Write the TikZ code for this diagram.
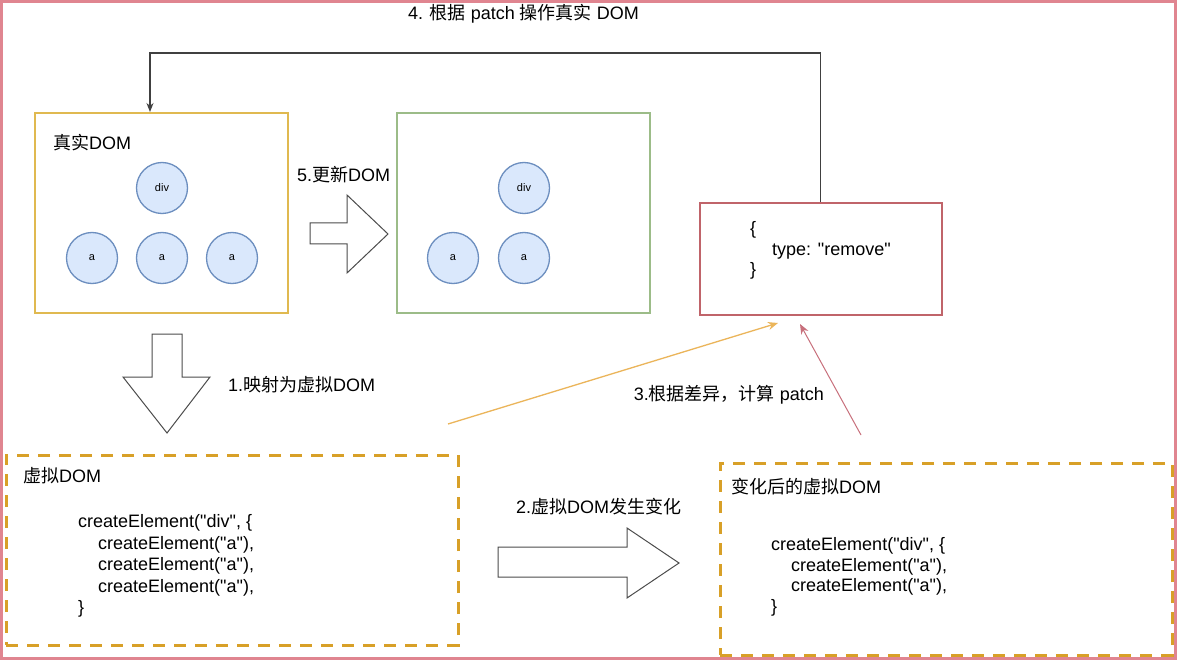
\documentclass[tikz,border=0pt]{standalone}
\usepackage{fontspec}
\setmainfont{Liberation Sans}[Ligatures=TeXOff]
\newfontfamily\cjk{Noto Sans CJK SC}
\usetikzlibrary{arrows.meta,calc}
\definecolor{framec}{HTML}{E08590}
\definecolor{realc}{HTML}{E0B950}
\definecolor{newc}{HTML}{9CBC88}
\definecolor{patchc}{HTML}{C0646A}
\definecolor{circf}{HTML}{DAE8FC}
\definecolor{circd}{HTML}{6C8EBF}
\definecolor{dashc}{HTML}{D8A028}
\definecolor{orgarr}{HTML}{EBB55A}
\definecolor{redarr}{HTML}{C8707C}
\definecolor{connc}{HTML}{404040}
\begin{document}
\begin{tikzpicture}[x=1pt,y=-1pt,
  lbl/.style={anchor=west,inner sep=0pt,font=\fontsize{18}{21}\selectfont},
  code/.style={anchor=west,inner sep=0pt,font=\fontsize{18}{21}\selectfont},
  solidbox/.style={draw,line width=2pt,minimum width=253pt,minimum height=200pt,inner sep=0pt},
  dashbox/.style={draw=dashc,line width=3pt,dash pattern=on 12pt off 9pt,inner sep=0pt},
  tnode/.style={circle,draw=circd,fill=circf,line width=1.3pt,minimum size=51pt,inner sep=0pt,font=\fontsize{11}{13}\selectfont},
  bigarrow/.style={draw=black!70,line width=1pt,fill=white,line join=miter},
  conn/.style={draw=connc,line width=1.3pt,-{Stealth[length=9pt,width=7pt]}},
  orgconn/.style={draw=orgarr,line width=1.3pt,-{Stealth[length=10pt,width=8pt]}},
  redconn/.style={draw=redarr,line width=1pt,-{Stealth[length=10pt,width=8pt]}}
]
\useasboundingbox (0,0) rectangle (1177,660);
\fill[white] (0,0) rectangle (1177,660);
\draw[framec,line width=3pt] (1.5,1.5) rectangle (1175.5,658.5);

% top label
\node[lbl] (l4) at (408,14) {4. {\cjk 根据} patch {\cjk 操作真实} DOM};

% real DOM
\node[solidbox,draw=realc] (real) at (161.5,213) {};
\node[lbl] (realt) at (53,143) {{\cjk 真实}DOM};
\node[tnode] (rdiv) at (162,188) {div};
\node[tnode] (ra1) at (92,258) {a};
\node[tnode] (ra2) at (162,258) {a};
\node[tnode] (ra3) at (232,258) {a};

% update arrow
\node[lbl] (l5) at (297,175) {5.{\cjk 更新}DOM};
\draw[bigarrow] (310,223) -- (347,223) -- (347,195) -- (388,234) -- (347,273) -- (347,244) -- (310,244) -- cycle;

% new DOM
\node[solidbox,draw=newc] (newdom) at (523.5,213) {};
\node[tnode] (ndiv) at (524,188) {div};
\node[tnode] (na1) at (453,258) {a};
\node[tnode] (na2) at (524,258) {a};

% patch
\node[draw=patchc,line width=2pt,minimum width=242pt,minimum height=112pt,inner sep=0pt] (patch) at (820.5,259) {};
\node[code] (p1) at (750,230) {\{};
\node[code] (p2) at (772,251) {type: "remove"};
\node[code] (p3) at (750,271) {\}};

% connector 4
\coordinate (turn) at (150,53);
\coordinate (realin) at ($(real.north)+(-11.5,0)$);
\draw[conn] (patch.north) |- (turn) -- (realin);

% down arrow
\draw[bigarrow] (152,334) -- (182,334) -- (182,377) -- (210,377) -- (167,433) -- (123,377) -- (152,377) -- cycle;
\node[lbl] (l1) at (228,385) {1.{\cjk 映射为虚拟}DOM};

% diff arrows
\coordinate (o1) at (448,424);
\coordinate (o2) at (778,323);
\draw[orgconn] (o1) -- (o2);
\coordinate (r1) at (861,435);
\coordinate (r2) at (800,324);
\draw[redconn] (r1) -- (r2);
\node[lbl,anchor=east] (l3) at (824,395) {3.{\cjk 根据差异，计算} patch};

% virtual DOM
\node[dashbox,minimum width=452pt,minimum height=190pt] (vdom) at (232,550) {};
\node[lbl] (vdt) at (23,476) {{\cjk 虚拟}DOM};
\node[code] (c1) at (78,523) {createElement("div", \{};
\node[code] (c2) at (98,545) {createElement("a"),};
\node[code] (c3) at (98,566) {createElement("a"),};
\node[code] (c4) at (98,588) {createElement("a"),};
\node[code] (c5) at (78,609) {\}};

% change arrow
\node[lbl] (l2) at (516,507) {2.{\cjk 虚拟}DOM{\cjk 发生变化}};
\draw[bigarrow] (498,547) -- (627,547) -- (627,528) -- (679,563) -- (627,598) -- (627,577) -- (498,577) -- cycle;

% changed virtual DOM
\node[dashbox,minimum width=452pt,minimum height=192pt] (vnew) at (946,559) {};
\node[lbl] (vnt) at (731,487) {{\cjk 变化后的虚拟}DOM};
\node[code] (d1) at (771,546) {createElement("div", \{};
\node[code] (d2) at (791,567) {createElement("a"),};
\node[code] (d3) at (791,587) {createElement("a"),};
\node[code] (d4) at (771,608) {\}};
\end{tikzpicture}
\end{document}
